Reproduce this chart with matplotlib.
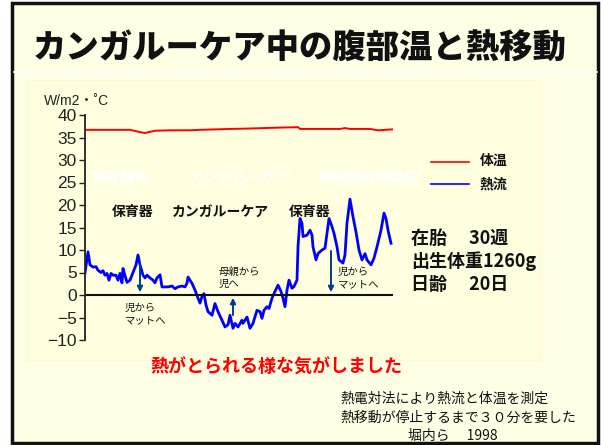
import matplotlib.pyplot as plt
from matplotlib.patches import Rectangle

plt.rcParams['font.family'] = ['Noto Sans CJK JP', 'DejaVu Sans']

# 熱流 (W/m2・°C) - 横軸は経過（相対値）
heat_t = [0, 3, 5, 8, 11, 13, 16, 18, 20, 22, 24, 26, 28, 31, 33, 35, 37, 38, 40, 42,
          45, 48, 51, 53, 55, 58, 60, 62, 65, 68, 70, 72, 75, 77, 80, 83, 87, 90, 93, 97,
          100, 102, 103, 107, 110, 113, 115, 117, 119, 121, 123, 127, 130, 133, 137, 140,
          143, 145, 148, 150, 153, 157, 158, 162, 165, 168, 172, 175, 177, 179, 182, 184,
          187, 190, 193, 196, 198, 200, 202, 204, 207, 209, 212, 213, 215, 217, 218, 222,
          225, 227, 228, 231, 233, 237, 240, 242, 244, 247, 249, 252, 254, 258, 260, 262,
          265, 268, 271, 274, 277, 280, 282, 286, 289, 292, 296, 299, 301, 303, 306]
heat_v = [4.9, 9.6, 6.7, 6.2, 6.3, 5.5, 5.0, 5.4, 4.4, 4.8, 3.3, 4.8, 4.4, 4.4, 3.3, 4.8, 2.7, 5.9, 4.3, 2.8,
          3.3, 5.0, 6.7, 8.9, 6.7, 4.4, 3.8, 4.4, 3.8, 3.3, 2.7, 3.8, 4.5, 1.8, 1.8, 1.8, 2.0, 1.4, 1.8, 2.0,
          1.8, 2.6, 4.0, 2.6, 1.1, -0.7, -1.8, -0.3, 0.3, -2.2, -3.7, -4.5, -1.9, -3.7, -5.6, -7.1,
          -6.6, -4.5, -7.4, -6.3, -7.1, -5.6, -6.3, -4.9, -7.4, -6.3, -3.4, -3.7, -5.2, -3.4, -2.6, -3.0,
          -0.7, 0.8, 2.2, 0.8, -0.7, -2.6, 1.1, 3.3, 1.5, 1.9, 3.3, 10.7, 17.0, 15.9, 13.0, 13.3,
          14.4, 13.3, 10.7, 7.8, 9.2, 10.0, 10.4, 13.7, 17.0, 15.2, 13.7, 10.7, 7.8, 7.1, 8.9, 16.0,
          21.3, 17.4, 14.0, 10.0, 7.8, 9.2, 7.8, 6.7, 8.2, 10.7, 14.4, 18.2, 17.0, 14.4, 11.5]

# 体温 (°C)
temp_t = [0, 15, 45, 55, 60, 70, 85, 105, 115, 145, 165, 195, 213, 215, 255, 260, 265, 285, 293, 300, 307]
temp_v = [36.7, 36.7, 36.7, 36.2, 36.0, 36.5, 36.6, 36.6, 36.7, 36.9, 37.0, 37.2, 37.3, 36.9, 36.9,
          37.1, 36.9, 36.9, 36.6, 36.7, 36.8]

# 矢印 (t, 始点, 終点)
arrows = [(55, 7.8, 0), (148, -5.1, 0), (246, 10.4, 0)]

W, H = 601, 445
fig = plt.figure(figsize=(W / 100, H / 100), dpi=100)
fig.patch.set_facecolor('white')

def px(x, y):
    return x / W, 1 - y / H

# スライド枠
fig.patches.append(Rectangle(px(12, 443), 586 / W, 440 / H, transform=fig.transFigure,
                             facecolor='#FFFFE6', edgecolor='#111111', linewidth=2.5, zorder=-3))
fig.patches.append(Rectangle(px(27, 360), 513 / W, 280 / H, transform=fig.transFigure,
                             facecolor='#FFFFE0', edgecolor='#FAFAD0', linewidth=1, zorder=-2))
fig.lines.append(plt.Line2D([14 / W, 597 / W], [1 - 72 / H] * 2, transform=fig.transFigure,
                            color='white', linewidth=1.2, zorder=-1))

def ftext(x, y, s, **kw):
    fig.text(*px(x, y), s, **kw)

ftext(300, 48, 'カンガルーケア中の腹部温と熱移動', ha='center', va='center',
      fontsize=24, fontweight='heavy', color='#111111')

ax = fig.add_axes([85 / W, 1 - 340 / H, 308 / W, 225 / H])
ax.set_facecolor('none')
ax.plot(temp_t, temp_v, color='#FF0000', linewidth=1.4)
ax.plot(heat_t, heat_v, color='#0000FF', linewidth=2.0)
ax.axhline(0, color='#111111', linewidth=1.5)
for t, y0, y1 in arrows:
    ax.annotate('', xy=(t, y1), xytext=(t, y0),
                arrowprops=dict(arrowstyle='-|>', color='#003C8F', lw=1.4, mutation_scale=8))
ax.set_xlim(0, 308)
ax.set_ylim(-10, 40)
ax.set_yticks(range(-10, 41, 5))
ax.set_xticks([])
for s in ['top', 'right', 'bottom']:
    ax.spines[s].set_visible(False)
ax.spines['left'].set_color('#222222')
ax.spines['left'].set_linewidth(1.3)
ax.tick_params(axis='y', direction='out', length=4, width=1, color='#222222',
               labelsize=12.5, labelcolor='#222222', pad=2)
for lab in ax.get_yticklabels():
    lab.set_family('Liberation Sans')

ftext(44, 101, 'W/m2・˚C', fontsize=10, color='#222222', va='center',
      family=['Liberation Sans', 'Noto Sans CJK JP'])

# 背景の白文字
ftext(92, 177, '保育器内', fontsize=10.5, fontweight='bold', color='white', va='center')
ftext(190, 177, 'カンガルーケア', fontsize=10.5, fontweight='bold', color='white', va='center')
ftext(318, 177, '保育器内仰臥位', fontsize=10.5, fontweight='bold', color='white', va='center')

# 期間ラベル
ftext(112, 212, '保育器', fontsize=10, fontweight='bold', color='#111111', va='center')
ftext(172, 212, 'カンガルーケア', fontsize=10, fontweight='bold', color='#111111', va='center')
ftext(289, 212, '保育器', fontsize=10, fontweight='bold', color='#111111', va='center')

ftext(125, 314, '児から\nマットへ', fontsize=7.5, color='#111111', va='center', linespacing=1.3)
ftext(219, 278, '母親から\n児へ', fontsize=7.5, color='#111111', va='center', linespacing=1.3)
ftext(338, 278, '児から\nマットへ', fontsize=7.5, color='#111111', va='center', linespacing=1.3)

# 凡例
fig.lines.append(plt.Line2D([431 / W, 469 / W], [1 - 162 / H] * 2, transform=fig.transFigure,
                            color='#FF0000', linewidth=1.2))
fig.lines.append(plt.Line2D([431 / W, 469 / W], [1 - 184 / H] * 2, transform=fig.transFigure,
                            color='#0000FF', linewidth=1.2))
ftext(480, 161, '体温', fontsize=10, fontweight='bold', color='#111111', va='center')
ftext(480, 184, '熱流', fontsize=10, fontweight='bold', color='#111111', va='center')

ftext(411, 238, '在胎　 30週', fontsize=13, fontweight='bold', color='#111111', va='center')
ftext(411, 261, '出生体重1260g', fontsize=13, fontweight='bold', color='#111111', va='center')
ftext(411, 284, '日齢　 20日', fontsize=13, fontweight='bold', color='#111111', va='center')

ftext(150, 367, '熱がとられる様な気がしました', fontsize=13, fontweight='bold', color='#FF0000', va='center')

ftext(340, 399, '熱電対法により熱流と体温を測定', fontsize=10, color='#111111', va='center')
ftext(340, 418, '熱移動が停止するまで３０分を要した', fontsize=10, color='#111111', va='center')
ftext(408, 436, '堀内ら　 1998', fontsize=10, color='#111111', va='center')

fig.savefig('out.png', dpi=100)
